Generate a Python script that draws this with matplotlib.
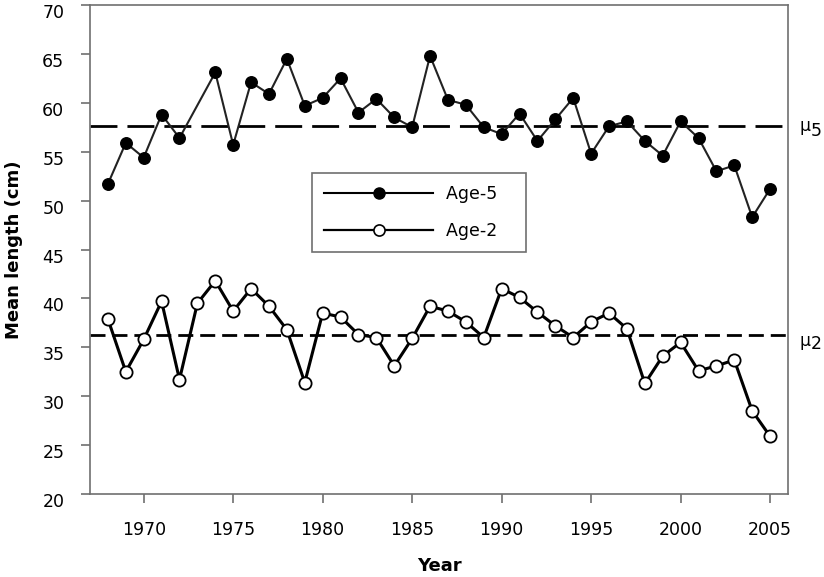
import matplotlib
matplotlib.use("Agg")
import matplotlib.pyplot as plt
import matplotlib.transforms as mtransforms
from matplotlib.lines import Line2D

plt.rcParams['font.family'] = ['DejaVu Sans']

# ---- data ----
years5 = [1968, 1969, 1970, 1971, 1972, 1974, 1975, 1976, 1977, 1978, 1979,
          1980, 1981, 1982, 1983, 1984, 1985, 1986, 1987, 1988, 1989, 1990,
          1991, 1992, 1993, 1994, 1995, 1996, 1997, 1998, 1999, 2000, 2001,
          2002, 2003, 2004, 2005]
age5 = [51.7, 55.9, 54.4, 58.8, 56.4, 63.1, 55.7, 62.1, 60.9, 64.5, 59.7,
        60.5, 62.5, 59.0, 60.4, 58.5, 57.5, 64.8, 60.3, 59.8, 57.5, 56.8,
        58.9, 56.1, 58.3, 60.5, 54.8, 57.6, 58.1, 56.1, 54.6, 58.1, 56.4,
        53.0, 53.6, 48.3, 51.2]

years2 = list(range(1968, 2006))
age2 = [37.9, 32.5, 35.8, 39.7, 31.7, 39.5, 41.8, 38.7, 41.0, 39.2, 36.8,
        31.4, 38.5, 38.1, 36.3, 36.0, 33.1, 35.9, 39.2, 38.7, 37.6, 36.0,
        41.0, 40.1, 38.6, 37.2, 36.0, 37.6, 38.5, 36.9, 31.3, 34.1, 35.5,
        32.6, 33.1, 33.7, 28.5, 25.9]

mu5 = 57.6
mu2 = 36.3

series_labels = ['Age-5', 'Age-2']
xticks = [1970, 1975, 1980, 1985, 1990, 1995, 2000, 2005]
yticks = [20, 25, 30, 35, 40, 45, 50, 55, 60, 65, 70]

# ---- figure ----
fig = plt.figure(figsize=(8.24, 5.77), dpi=100)
ax = fig.add_axes([90/824, 1 - 494/577, 698/824, 489/577])

frame_col = '#707070'

ax.axhline(mu5, color='black', lw=2.0, dashes=(9.7, 3.6), zorder=1)
ax.axhline(mu2, color='black', lw=2.0, dashes=(5.4, 2.5), zorder=1)

ax.plot(years5, age5, color='#222222', lw=1.5, marker='o', ms=8.3,
        mfc='black', mec='black', zorder=3)
ax.plot(years2, age2, color='black', lw=2.2, marker='o', ms=8.8,
        mfc='white', mec='black', mew=1.3, zorder=3)

ax.set_xlim(1967, 2006)
ax.set_ylim(20, 70)
ax.set_xticks(xticks)
ax.set_yticks(yticks)

for s in ax.spines.values():
    s.set_color(frame_col)
    s.set_linewidth(1.2)

ax.tick_params(axis='both', direction='out', length=6.5, width=1.2,
               color=frame_col, labelsize=12.5, labelcolor='black')
ax.tick_params(axis='x', pad=13)
ax.tick_params(axis='y', pad=12)

ax.set_xlabel('Year', fontsize=13, fontweight='bold', labelpad=13)
ax.set_ylabel('Mean length (cm)', fontsize=13, fontweight='bold', labelpad=14)

# mu labels
tr = mtransforms.blended_transform_factory(ax.transAxes, ax.transData)
ax.text(1.017, mu5, 'μ', transform=tr, fontsize=12.5, ha='left', va='center')
ax.text(1.033, mu5 - 0.5, '5', transform=tr, fontsize=12.5, ha='left', va='center')
ax.text(1.017, mu2 - 0.7, 'μ', transform=tr, fontsize=12.5, ha='left', va='center')
ax.text(1.033, mu2 - 1.0, '2', transform=tr, fontsize=12.5, ha='left', va='center')

# legend (handles styled like the reference legend)
h5 = Line2D([], [], color='black', lw=1.5, marker='o', ms=8,
            mfc='black', mec='black')
h2 = Line2D([], [], color='black', lw=1.6, marker='o', ms=8,
            mfc='white', mec='black', mew=1.2)
leg = ax.legend([h5, h2], [lab + '   ' for lab in series_labels],
                loc='upper left', bbox_to_anchor=(0.318, 0.656),
                borderaxespad=0, fontsize=12.5, handlelength=6.3,
                handletextpad=0.7, labelspacing=1.05, borderpad=0.7,
                fancybox=False, framealpha=1, edgecolor=frame_col)
leg.get_frame().set_linewidth(1.2)

# y tick labels sit slightly below their ticks in the reference
offset = mtransforms.ScaledTranslation(0, -6/100, fig.dpi_scale_trans)
for lab in ax.get_yticklabels():
    lab.set_transform(lab.get_transform() + offset)

fig.savefig('out.png', dpi=100)
